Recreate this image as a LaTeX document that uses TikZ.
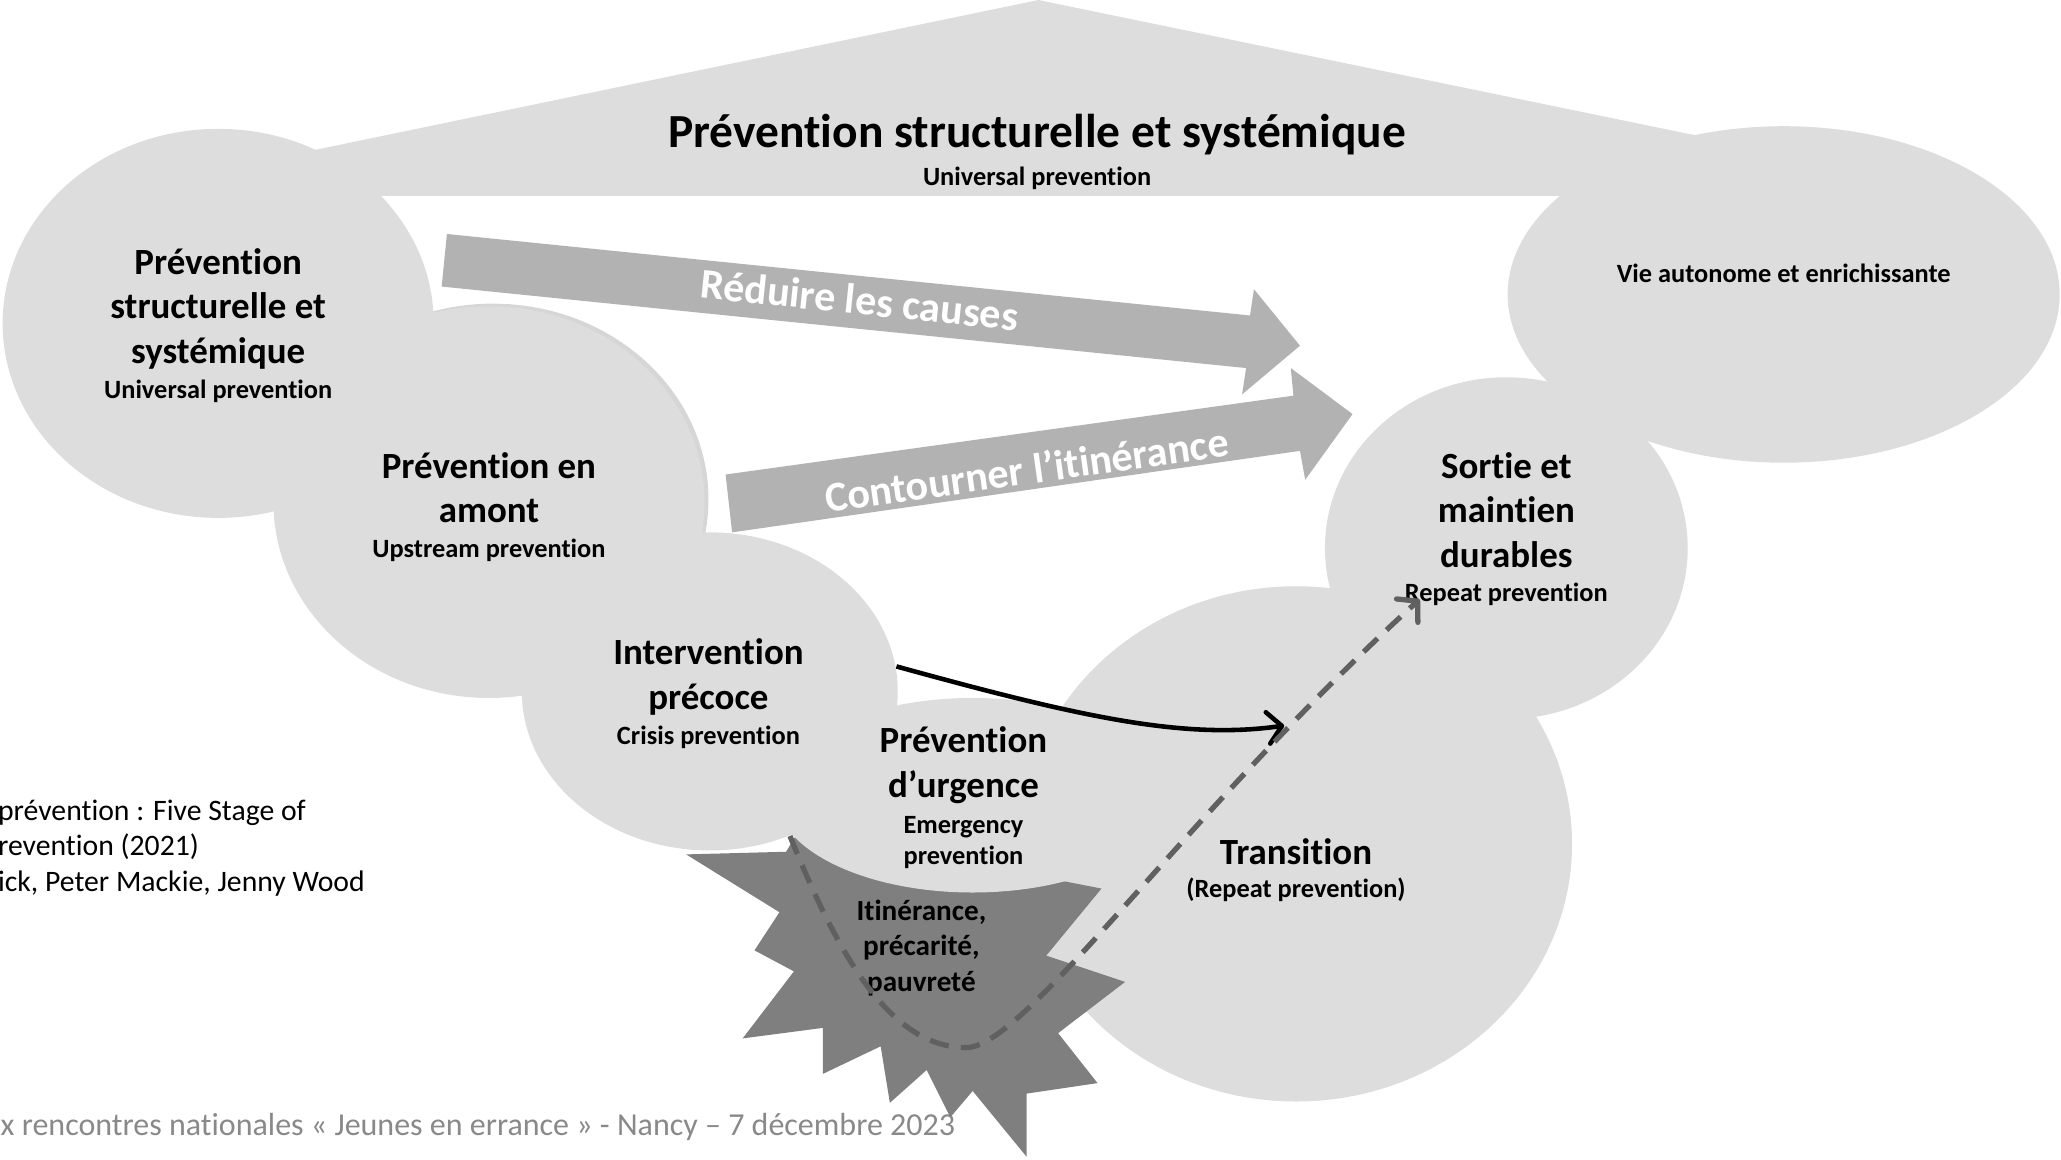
\documentclass[tikz,border=0pt]{standalone}
\usepackage{fontspec}
\setmainfont{Carlito}[Ligatures={NoCommon,NoContextual,NoRequired},Contextuals=NoAlternate]
\usepackage{tikz}
\usetikzlibrary{arrows.meta}
\definecolor{cloudgrey}{HTML}{DDDDDD}
\definecolor{rimgrey}{HTML}{D6D6D6}
\definecolor{arrowgrey}{HTML}{B2B2B2}
\definecolor{stargrey}{HTML}{7F7F7F}
\definecolor{dashgrey}{HTML}{606060}
\definecolor{footgrey}{HTML}{898989}

\begin{document}
\begin{tikzpicture}[x=0.013144cm,y=-0.013144cm,>={Straight Barb[length=4pt,width=9pt,round]},
                    every node/.style={align=center,inner sep=0pt}]
  \tikzstyle{cloud}=[fill=cloudgrey]
  \tikzstyle{bigarrow}=[fill=arrowgrey]
  \tikzstyle{head}=[font=\fontsize{10.5}{12.7}\selectfont\bfseries]
  \tikzstyle{sub}=[font=\fontsize{7.5}{9}\selectfont\bfseries]
  \tikzstyle{arrowtext}=[font=\fontsize{12}{14}\selectfont\bfseries,text=white]

  \useasboundingbox (0,0) rectangle (1568,882);

  % source and footer
  \node[anchor=west,align=left,font=\fontsize{8.45}{10.1}\selectfont] (source) at (-2,645)
       {prévention : Five Stage of\\revention (2021)\\ick, Peter Mackie, Jenny Wood};
  \node[anchor=west,font=\fontsize{9.1}{11}\selectfont,text=footgrey] (footer) at (0,857)
       {x rencontres nationales « Jeunes en errance » - Nancy – 7 décembre 2023};

  % roof
  \fill[cloud] (790,0) -- (1300,105) -- (1300,149) -- (235,149) -- (235,115) -- cycle;

  % clouds
  \fill[rimgrey] (375,380) ellipse [x radius=164, y radius=149];
  \fill[cloud] (166,246) ellipse [x radius=164, y radius=148];
  \fill[cloud] (372,382) ellipse [x radius=164, y radius=149];
  \fill[cloud] (540,526) ellipse [x radius=143, y radius=121];
  \fill[cloud] (986,642) ellipse [x radius=210, y radius=196];
  \fill[cloud] (1146,417) ellipse [x radius=138, y radius=130];
  \fill[cloud] (1357,224) ellipse [x radius=210, y radius=128];

  % starburst
  \fill[stargrey] (522,650) -- (598,648) -- (615,620) -- (760,625) -- (797,668)
       -- (838,676) -- (796,727) -- (856,747) -- (805,786) -- (835,824) -- (781,832)
       -- (781,880) -- (740,830) -- (723,850) -- (705,814) -- (677,839) -- (670,796)
       -- (626,817) -- (626,782) -- (565,790) -- (604,739) -- (574,723) -- (593,694) -- cycle;
  \fill[cloud] (740,605) ellipse [x radius=150, y radius=74];

  % big arrows
  \fill[bigarrow] (340,178) -- (951,240) -- (954,220) -- (989,263) -- (945,300)
       -- (948,280) -- (336,218) -- cycle;
  \fill[bigarrow] (552,361) -- (984,301) -- (982,280) -- (1029,315) -- (993,365)
       -- (989,343) -- (557,405) -- cycle;
  \node[arrowtext,rotate=-6] (reduire) at (654,228) {Réduire les causes};
  \node[arrowtext,rotate=8] (contourner) at (781,357) {Contourner l’itinérance};

  % labels
  \node[font=\fontsize{13.5}{16}\selectfont\bfseries] (roof) at (789,102)
       {Prévention structurelle et systémique};
  \node[sub] (roof-en) at (789,136) {Universal prevention};

  \node[head] (struct) at (166,235) {Prévention\\structurelle et\\systémique};
  \node[sub] (struct-en) at (166,298) {Universal prevention};

  \node[head] (amont) at (372,371) {Prévention en\\amont};
  \node[sub] (amont-en) at (372,419) {Upstream prevention};

  \node[head] (precoce) at (539,515) {Intervention\\précoce};
  \node[sub] (precoce-en) at (539,561) {Crisis prevention};

  \node[head] (urgence) at (733,582) {Prévention\\d’urgence};
  \node[sub] (urgence-en) at (733,641) {Emergency\\prevention};

  \node[font=\fontsize{8.3}{10.1}\selectfont\bfseries] (itin) at (701,721)
       {Itinérance,\\précarité,\\pauvreté};

  \node[head] (trans) at (986,648) {Transition};
  \node[sub] (trans-en) at (986,677) {(Repeat prevention)};

  \node[head] (sortie) at (1146,388) {Sortie et\\maintien\\durables};
  \node[sub] (sortie-en) at (1146,452) {Repeat prevention};

  \node[sub] (vie) at (1357,208) {Vie autonome et enrichissante};

  % connectors
  \coordinate (c-from) at (682,507);
  \coordinate (c-to) at (977,552);
  \coordinate (d-from) at (601,636);
  \coordinate (d-to) at (1080,456);

  \draw[->,line width=1.3pt] (c-from) .. controls (820,545) and (900,563) .. (c-to);
  \draw[->,dashgrey,line width=1.5pt,dash pattern=on 5.5pt off 3.5pt]
       (d-from) .. controls (635,720) and (675,797) .. (735,797)
       .. controls (780,797) and (900,620) .. (d-to);
\end{tikzpicture}
\end{document}
